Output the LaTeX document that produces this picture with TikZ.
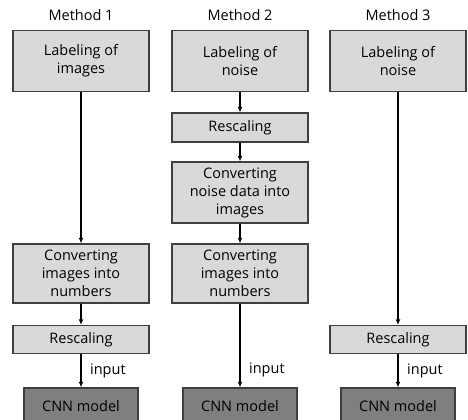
\documentclass[tikz,border=0pt]{standalone}
\usepackage{fontspec}
\setmainfont{Open Sans}
\usetikzlibrary{arrows.meta}

\definecolor{boxfill}{HTML}{D9D9D9}
\definecolor{boxline}{HTML}{3F3F3F}
\definecolor{cnnfill}{HTML}{7F7F7F}

\tikzset{
  lbl/.style={font=\fontsize{14.5bp}{18bp}\selectfont},
  stepbox/.style={lbl, draw=boxline, fill=boxfill, line width=1.4bp, align=center,
    inner sep=0pt, text=black},
  wide/.style={stepbox, minimum width=136bp},
  cnnbox/.style={stepbox, fill=cnnfill, minimum width=114bp, minimum height=36bp},
  arr/.style={draw=black, line width=1.7bp, -{Latex[length=5.5bp,width=5bp]}},
  inlabel/.style={lbl, right=5bp}
}

\begin{document}
\begin{tikzpicture}[x=1bp, y=-1bp]
\useasboundingbox (0,0) rectangle (468,419);

% column titles
\node[lbl] (t1) at (81,15) {Method 1};
\node[lbl] (t2) at (240,15) {Method 2};
\node[lbl] (t3) at (398,15) {Method 3};

% Method 1
\node[wide, minimum height=61bp] (a1) at (81,61) {Labeling of\\images};
\node[wide, minimum height=59bp] (a2) at (81,273.5) {Converting\\images into\\numbers};
\node[wide, minimum height=28bp] (a3) at (81,339.5) {Rescaling};
\node[cnnbox] (a4) at (81,406) {CNN model};

% Method 2
\node[wide, minimum height=61bp] (b1) at (240,61) {Labeling of\\noise};
\node[wide, minimum height=29bp] (b2) at (240,127.5) {Rescaling};
\node[wide, minimum height=61bp] (b3) at (240,192.5) {Converting\\noise data into\\images};
\node[wide, minimum height=59bp] (b4) at (240,273.5) {Converting\\images into\\numbers};
\node[cnnbox] (b5) at (240,406) {CNN model};

% Method 3
\node[wide, minimum height=61bp] (c1) at (398,61) {Labeling of\\noise};
\node[wide, minimum height=28bp] (c2) at (398,339.5) {Rescaling};
\node[cnnbox] (c3) at (398,406) {CNN model};

% connectors
\draw[arr] (a1.south) -- (a2.north);
\draw[arr] (a2.south) -- (a3.north);
\draw[arr] (a3.south) -- node[inlabel] (l1) {input} (a4.north);

\draw[arr] (b1.south) -- (b2.north);
\draw[arr] (b2.south) -- (b3.north);
\draw[arr] (b3.south) -- (b4.north);
\draw[arr] (b4.south) -- (b5.north |- 0,353) -- node[inlabel] (l2) {input} (b5.north);

\draw[arr] (c1.south) -- (c2.north);
\draw[arr] (c2.south) -- node[inlabel] (l3) {input} (c3.north);
\end{tikzpicture}
\end{document}
